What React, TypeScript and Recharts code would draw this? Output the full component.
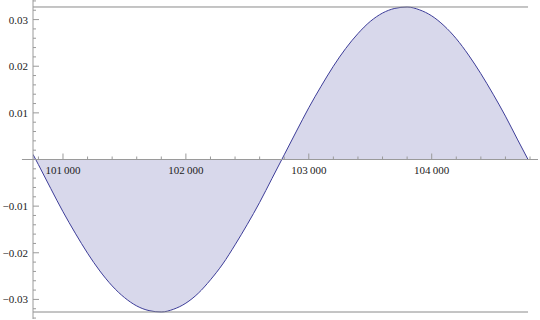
import React from 'react';
import { ComposedChart, Area, XAxis, YAxis, ReferenceLine } from 'recharts';

const xValues = [
  100756, 100800, 100900, 101000, 101100, 101200, 101300, 101400, 101500, 101600,
  101700, 101800, 101900, 102000, 102100, 102200, 102300, 102400, 102500, 102600,
  102700, 102800, 102900, 103000, 103100, 103200, 103300, 103400, 103500, 103600,
  103700, 103800, 103900, 104000, 104100, 104200, 104300, 104400, 104500, 104600,
  104700, 104784,
];
const yValues = [
  0.0011, -0.0011, -0.0062, -0.0112, -0.0158, -0.0201, -0.0239, -0.0271, -0.0296, -0.0314,
  -0.0324, -0.0327, -0.0321, -0.0308, -0.0287, -0.0258, -0.0224, -0.0183, -0.0139, -0.0092,
  -0.0041, 0.001, 0.0061, 0.0111, 0.0157, 0.02, 0.0238, 0.027, 0.0296, 0.0314,
  0.0324, 0.0327, 0.0321, 0.0308, 0.0287, 0.0259, 0.0224, 0.0184, 0.014, 0.0093,
  0.0042, 0,
];
const bandLevel = 0.0327;

const xMajorTicks = [101000, 102000, 103000, 104000];
const xMinorTicks = [
  100800, 101200, 101400, 101600, 101800, 102200, 102400, 102600, 102800,
  103200, 103400, 103600, 103800, 104200, 104400, 104600, 104800,
];
const yMajorTicks = [-0.03, -0.02, -0.01, 0.01, 0.02, 0.03];
const yMinorTicks = [
  -0.034, -0.032, -0.028, -0.026, -0.024, -0.022, -0.018, -0.016, -0.014, -0.012,
  -0.008, -0.006, -0.004, -0.002, 0.002, 0.004, 0.006, 0.008, 0.012, 0.014,
  0.016, 0.018, 0.022, 0.024, 0.026, 0.028, 0.032, 0.034,
];

const data = xValues.map((x, i) => ({ x, y: yValues[i] }));

const W = 540;
const H = 320;
const X_AXIS_H = 1;
const PLOT_H = H - X_AXIS_H;
const Y_AXIS_W = 33;
const X_DOMAIN: [number, number] = [100756, 104865];
const X_AXIS_LEFT = 100666;
const Y_DOMAIN: [number, number] = [-0.0342, 0.0342];
const ZERO_Y = (PLOT_H * Y_DOMAIN[1]) / (Y_DOMAIN[1] - Y_DOMAIN[0]);

const AXIS = '#9a9a9a';
const LABEL = '#222';
const FONT = '"Liberation Serif", "Times New Roman", serif';
const CURVE = '#3d3d99';

const isIn = (arr: number[], v: number) => arr.some((a) => Math.abs(a - v) < 1e-9);

const fmtX = (v: number) => {
  const s = String(v);
  return s.slice(0, s.length - 3) + '\u2009' + s.slice(s.length - 3);
};
const fmtY = (v: number) => v.toFixed(2).replace('-', '\u2212');

const textStyle = { fontFamily: FONT, fontSize: 11 };

const XTick = (props: any) => {
  const { x, payload } = props;
  const v = payload.value;
  const major = isIn(xMajorTicks, v);
  return (
    <g>
      <line x1={x} x2={x} y1={ZERO_Y} y2={ZERO_Y - (major ? 6 : 3)} stroke={AXIS} strokeWidth={1} />
      {major && (
        <text x={x} y={ZERO_Y + 14} textAnchor="middle" fontSize={11} fontFamily={FONT} style={textStyle} fill={LABEL}>
          {fmtX(v)}
        </text>
      )}
    </g>
  );
};

const YTick = (props: any) => {
  const { y, payload } = props;
  const v = payload.value;
  const major = isIn(yMajorTicks, v);
  return (
    <g>
      <line x1={Y_AXIS_W} x2={Y_AXIS_W + (major ? 6 : 3)} y1={y} y2={y} stroke={AXIS} strokeWidth={1} />
      {major && (
        <text x={Y_AXIS_W - 5} y={y + 4} textAnchor="end" fontSize={11} fontFamily={FONT} style={textStyle} fill={LABEL}>
          {fmtY(v)}
        </text>
      )}
    </g>
  );
};

const xTicks = [...xMinorTicks, ...xMajorTicks].sort((a, b) => a - b);
const yTicks = [...yMinorTicks, ...yMajorTicks].sort((a, b) => a - b);

export default function App() {
  const xFirst = xValues[0];
  const xLast = xValues[xValues.length - 1];
  return (
    <div style={{ position: 'absolute', left: 0, top: 0, width: W, height: H, background: '#fff' }}>
      <ComposedChart width={W} height={H} data={data} margin={{ top: 0, right: 2, bottom: 0, left: 0 }}>
        <XAxis
          type="number"
          dataKey="x"
          domain={X_DOMAIN}
          allowDataOverflow
          ticks={xTicks}
          interval={0}
          height={X_AXIS_H}
          axisLine={false}
          tickLine={false}
          tick={<XTick />}
        />
        <YAxis
          type="number"
          domain={Y_DOMAIN}
          allowDataOverflow
          ticks={yTicks}
          interval={0}
          width={Y_AXIS_W}
          axisLine={{ stroke: AXIS, strokeWidth: 1 }}
          tickLine={false}
          tick={<YTick />}
        />
        <Area
          type="monotone"
          dataKey="y"
          baseValue={0}
          stroke={CURVE}
          strokeWidth={1}
          fill={CURVE}
          fillOpacity={0.2}
          isAnimationActive={false}
          dot={false}
          activeDot={false}
        />
        <ReferenceLine
          segment={[{ x: X_AXIS_LEFT, y: 0 }, { x: X_DOMAIN[1], y: 0 }]}
          ifOverflow="visible"
          stroke={AXIS}
          strokeWidth={1}
        />
        <ReferenceLine
          segment={[{ x: xFirst, y: bandLevel }, { x: xLast, y: bandLevel }]}
          stroke="#8a8a8a"
          strokeWidth={1}
        />
        <ReferenceLine
          segment={[{ x: xFirst, y: -bandLevel }, { x: xLast, y: -bandLevel }]}
          stroke="#8a8a8a"
          strokeWidth={1}
        />
      </ComposedChart>
    </div>
  );
}
